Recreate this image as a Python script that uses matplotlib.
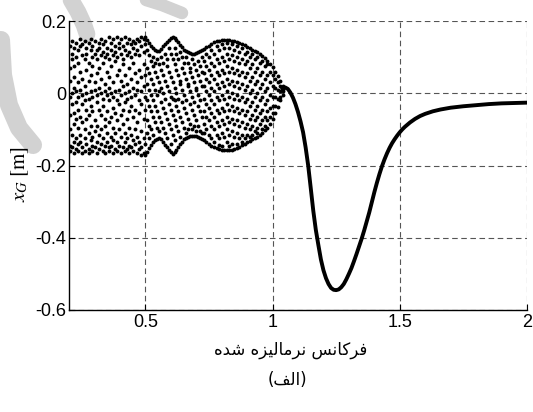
import numpy as np
import matplotlib.pyplot as plt
from matplotlib.lines import Line2D

plt.rcParams['font.family'] = ['Liberation Sans', 'DejaVu Sans']
plt.rcParams['mathtext.fontset'] = 'stix'
plt.rcParams['axes.unicode_minus'] = False

# --- scattered response below resonance (several values per frequency) ---
freq_a = [0.205, 0.212, 0.221, 0.229, 0.236, 0.245, 0.252, 0.261, 0.268, 0.277,
          0.285, 0.292, 0.301, 0.309, 0.316, 0.325, 0.333, 0.340, 0.349, 0.357,
          0.364, 0.373, 0.381, 0.388, 0.397, 0.405, 0.412, 0.421, 0.429, 0.436,
          0.445, 0.453, 0.460, 0.469, 0.477, 0.484, 0.493, 0.500]
xg_a = [
    [0.13, 0.07, 0.035, -0.01, -0.06, -0.1, -0.145, -0.16],
    [0.145, 0.11, 0.095, 0.0, -0.03, -0.115, -0.15],
    [0.125, 0.075, 0.045, 0.015, -0.055, -0.085, -0.135, -0.165],
    [0.14, 0.1, 0.005, -0.025, -0.07, -0.125, -0.155],
    [0.12, 0.085, 0.03, -0.01, -0.045, -0.095, -0.14, -0.16],
    [0.15, 0.13, 0.06, 0.01, -0.065, -0.115, -0.135],
    [0.135, 0.105, 0.04, -0.005, -0.03, -0.08, -0.15, -0.165],
    [0.145, 0.095, 0.02, -0.02, -0.1, -0.125, -0.16],
    [0.125, 0.11, 0.065, 0.0, -0.045, -0.07, -0.14],
    [0.14, 0.085, 0.035, -0.015, -0.06, -0.11, -0.155, -0.165],
    [0.15, 0.12, 0.05, 0.005, -0.035, -0.09, -0.13],
    [0.13, 0.1, 0.075, -0.01, -0.05, -0.12, -0.145, -0.16],
    [0.145, 0.11, 0.03, 0.01, -0.075, -0.105, -0.15],
    [0.12, 0.095, 0.055, -0.005, -0.025, -0.09, -0.135, -0.165],
    [0.14, 0.125, 0.07, 0.015, -0.045, -0.115, -0.155],
    [0.15, 0.105, 0.04, 0.0, -0.06, -0.1, -0.14],
    [0.135, 0.115, 0.085, -0.015, -0.035, -0.125, -0.16],
    [0.145, 0.1, 0.025, 0.005, -0.07, -0.09, -0.145, -0.165],
    [0.125, 0.11, 0.06, -0.005, -0.05, -0.11, -0.135],
    [0.155, 0.095, 0.045, 0.015, -0.02, -0.08, -0.15, -0.16],
    [0.14, 0.12, 0.075, 0.0, -0.065, -0.12, -0.145],
    [0.15, 0.105, 0.03, -0.01, -0.04, -0.095, -0.13, -0.165],
    [0.13, 0.115, 0.09, 0.005, -0.055, -0.11, -0.155],
    [0.155, 0.1, 0.05, -0.02, -0.075, -0.135, -0.16],
    [0.14, 0.125, 0.065, 0.01, -0.03, -0.1, -0.145],
    [0.15, 0.11, 0.035, -0.005, -0.06, -0.12, -0.165],
    [0.13, 0.095, 0.08, 0.02, -0.045, -0.085, -0.15],
    [0.155, 0.12, 0.05, 0.0, -0.025, -0.11, -0.135, -0.16],
    [0.14, 0.105, 0.025, -0.015, -0.07, -0.125, -0.155],
    [0.15, 0.115, 0.07, 0.005, -0.05, -0.095, -0.145, -0.165],
    [0.135, 0.1, 0.04, -0.01, -0.035, -0.115, -0.15],
    [0.145, 0.125, 0.085, 0.015, -0.065, -0.13, -0.16],
    [0.14, 0.11, 0.055, -0.005, -0.045, -0.1, -0.14],
    [0.15, 0.12, 0.03, 0.01, -0.08, -0.12, -0.165],
    [0.145, 0.105, 0.065, -0.02, -0.055, -0.135, -0.155],
    [0.155, 0.13, 0.045, 0.005, -0.03, -0.105, -0.15, -0.17],
    [0.15, 0.115, 0.08, 0.02, -0.07, -0.125, -0.165],
    [0.155, 0.135, 0.05, -0.01, -0.045, -0.14, -0.172],
]

freq_b = [0.507, 0.515, 0.523, 0.530, 0.538, 0.546, 0.553, 0.561, 0.569, 0.576,
          0.584, 0.592, 0.599, 0.607, 0.615, 0.622, 0.630, 0.638, 0.645, 0.653,
          0.661, 0.668, 0.676, 0.684, 0.691, 0.699, 0.707, 0.714, 0.722]
xg_b = [
    [0.148, 0.12, 0.07, 0.025, -0.02, -0.075, -0.11, -0.162],
    [0.14, 0.105, 0.055, 0.01, -0.035, -0.09, -0.125, -0.152],
    [0.132, 0.09, 0.04, -0.005, -0.05, -0.1, -0.143],
    [0.126, 0.1, 0.075, 0.025, -0.02, -0.065, -0.115, -0.136],
    [0.121, 0.085, 0.06, 0.01, -0.035, -0.08, -0.13],
    [0.118, 0.095, 0.045, -0.005, -0.05, -0.095, -0.126],
    [0.118, 0.08, 0.03, 0.005, -0.065, -0.105, -0.125],
    [0.123, 0.1, 0.065, 0.015, -0.025, -0.08, -0.128],
    [0.13, 0.085, 0.05, 0.0, -0.04, -0.095, -0.135],
    [0.137, 0.11, 0.035, -0.015, -0.055, -0.11, -0.142],
    [0.143, 0.095, 0.075, 0.02, -0.07, -0.125, -0.15],
    [0.148, 0.125, 0.06, 0.005, -0.03, -0.085, -0.157],
    [0.152, 0.11, 0.045, -0.01, -0.045, -0.1, -0.14, -0.163],
    [0.155, 0.095, 0.03, -0.015, -0.06, -0.115, -0.168],
    [0.153, 0.125, 0.08, 0.015, -0.02, -0.075, -0.13, -0.164],
    [0.148, 0.11, 0.065, 0.0, -0.035, -0.09, -0.157],
    [0.141, 0.095, 0.05, -0.015, -0.05, -0.105, -0.149],
    [0.134, 0.115, 0.035, 0.025, -0.065, -0.12, -0.141],
    [0.127, 0.1, 0.07, 0.01, -0.025, -0.08, -0.134],
    [0.121, 0.085, 0.055, -0.005, -0.04, -0.095, -0.128],
    [0.117, 0.1, 0.04, -0.02, -0.055, -0.11, -0.124],
    [0.114, 0.085, 0.025, 0.02, -0.07, -0.1, -0.121],
    [0.112, 0.07, 0.06, 0.005, -0.03, -0.085, -0.119],
    [0.11, 0.095, 0.045, -0.01, -0.045, -0.1, -0.118],
    [0.11, 0.08, 0.03, -0.025, -0.06, -0.09, -0.117],
    [0.111, 0.065, 0.015, 0.01, -0.075, -0.105, -0.118],
    [0.113, 0.09, 0.05, -0.005, -0.035, -0.09, -0.12],
    [0.116, 0.075, 0.035, -0.02, -0.05, -0.105, -0.123],
    [0.119, 0.1, 0.06, 0.02, -0.065, -0.11, -0.126],
]

freq_c = [0.73, 0.74, 0.75, 0.76, 0.77, 0.78, 0.79, 0.80, 0.81, 0.82, 0.83,
          0.84, 0.85, 0.86, 0.87, 0.88, 0.89, 0.90, 0.91, 0.92, 0.93, 0.94,
          0.95, 0.96, 0.97, 0.98, 0.99, 1.00, 1.01, 1.02, 1.03, 1.04]
xg_c = [
    [0.122, 0.09, 0.055, 0.02, -0.015, -0.05, -0.085, -0.11, -0.13],
    [0.127, 0.11, 0.075, 0.04, 0.005, -0.03, -0.065, -0.1, -0.135],
    [0.132, 0.1, 0.065, 0.03, -0.005, -0.04, -0.075, -0.115, -0.14],
    [0.137, 0.12, 0.085, 0.05, 0.015, -0.02, -0.055, -0.09, -0.125, -0.145],
    [0.141, 0.11, 0.075, 0.04, 0.005, -0.03, -0.065, -0.1, -0.135, -0.149],
    [0.144, 0.13, 0.095, 0.06, 0.025, -0.01, -0.045, -0.08, -0.115, -0.152],
    [0.146, 0.12, 0.085, 0.05, 0.015, -0.02, -0.055, -0.09, -0.125, -0.142, -0.155],
    [0.148, 0.135, 0.1, 0.065, 0.03, -0.005, -0.04, -0.075, -0.11, -0.145, -0.157],
    [0.148, 0.125, 0.09, 0.055, 0.02, -0.015, -0.05, -0.085, -0.12, -0.158],
    [0.148, 0.138, 0.11, 0.075, 0.04, 0.005, -0.03, -0.065, -0.1, -0.135, -0.158],
    [0.147, 0.125, 0.095, 0.06, 0.025, -0.01, -0.045, -0.08, -0.115, -0.145, -0.157],
    [0.146, 0.135, 0.105, 0.07, 0.035, 0.0, -0.035, -0.07, -0.105, -0.14, -0.156],
    [0.144, 0.12, 0.09, 0.055, 0.02, -0.015, -0.05, -0.085, -0.12, -0.154],
    [0.142, 0.13, 0.1, 0.065, 0.03, -0.005, -0.04, -0.075, -0.11, -0.14, -0.151],
    [0.139, 0.115, 0.085, 0.05, 0.015, -0.02, -0.055, -0.09, -0.125, -0.148],
    [0.136, 0.125, 0.095, 0.06, 0.025, -0.01, -0.045, -0.08, -0.115, -0.135, -0.144],
    [0.133, 0.11, 0.08, 0.045, 0.01, -0.025, -0.06, -0.095, -0.125, -0.14],
    [0.129, 0.115, 0.09, 0.055, 0.02, -0.015, -0.05, -0.085, -0.115, -0.136],
    [0.125, 0.1, 0.07, 0.035, 0.0, -0.035, -0.07, -0.1, -0.122, -0.132],
    [0.121, 0.11, 0.08, 0.045, 0.01, -0.025, -0.06, -0.09, -0.115, -0.128],
    [0.117, 0.095, 0.06, 0.025, -0.01, -0.045, -0.075, -0.105, -0.124],
    [0.113, 0.1, 0.07, 0.035, 0.0, -0.035, -0.065, -0.095, -0.11, -0.12],
    [0.108, 0.085, 0.05, 0.015, -0.02, -0.055, -0.085, -0.115],
    [0.103, 0.09, 0.06, 0.025, -0.01, -0.045, -0.075, -0.1, -0.11],
    [0.097, 0.075, 0.04, 0.005, -0.03, -0.065, -0.09, -0.103],
    [0.09, 0.08, 0.05, 0.015, -0.02, -0.05, -0.075, -0.095],
    [0.082, 0.06, 0.03, -0.005, -0.04, -0.065, -0.085],
    [0.072, 0.05, 0.02, -0.01, -0.035, -0.055, -0.072],
    [0.06, 0.04, 0.015, -0.01, -0.035, -0.056],
    [0.047, 0.03, 0.01, -0.015, -0.038],
    [0.033, 0.02, 0.005, -0.01, -0.02],
    [0.02, 0.012, 0.005, -0.004],
]

# --- single-valued response above resonance ---
curve_freq = [1.04, 1.05, 1.06, 1.07, 1.08, 1.09, 1.10, 1.11, 1.12, 1.13,
              1.14, 1.15, 1.16, 1.17, 1.18, 1.19, 1.20, 1.21, 1.22, 1.23,
              1.24, 1.25, 1.26, 1.27, 1.28, 1.29, 1.30, 1.31, 1.32, 1.33,
              1.34, 1.35, 1.36, 1.37, 1.38, 1.39, 1.40, 1.41, 1.42, 1.43,
              1.44, 1.45, 1.46, 1.47, 1.48, 1.49, 1.50, 1.51, 1.52, 1.54,
              1.56, 1.58, 1.60, 1.63, 1.66, 1.70, 1.75, 1.80, 1.85, 1.90,
              1.95, 2.00]
curve_xg = [0.012, 0.016, 0.012, 0.002, -0.012, -0.03, -0.052, -0.078, -0.108, -0.15,
            -0.2, -0.262, -0.325, -0.378, -0.42, -0.46, -0.49, -0.512, -0.528, -0.539,
            -0.544, -0.545, -0.543, -0.537, -0.528, -0.515, -0.5, -0.484, -0.465, -0.445,
            -0.424, -0.403, -0.38, -0.355, -0.33, -0.302, -0.274, -0.248, -0.224, -0.202,
            -0.183, -0.166, -0.151, -0.138, -0.127, -0.117, -0.108, -0.1, -0.093, -0.081,
            -0.071, -0.063, -0.057, -0.05, -0.045, -0.04, -0.036, -0.033, -0.03, -0.028,
            -0.027, -0.026]

xticks = [0.5, 1, 1.5, 2]
xtick_labels = ['0.5', '1', '1.5', '2']
yticks = [-0.6, -0.4, -0.2, 0, 0.2]
ytick_labels = ['-0.6', '-0.4', '-0.2', '0', '0.2']

xlabel_fa = 'فرکانس نرمالیزه شده'
caption_fa = '(الف)'

# presentation forms: isolated, final, initial, medial (None = joins right only)
FORMS = {
    '\u0627': ('\ufe8d', '\ufe8e', None, None),      # alef
    '\u062f': ('\ufea9', '\ufeaa', None, None),      # dal
    '\u0631': ('\ufead', '\ufeae', None, None),      # reh
    '\u0632': ('\ufeaf', '\ufeb0', None, None),      # zain
    '\u0633': ('\ufeb1', '\ufeb2', '\ufeb3', '\ufeb4'),  # seen
    '\u0634': ('\ufeb5', '\ufeb6', '\ufeb7', '\ufeb8'),  # sheen
    '\u0641': ('\ufed1', '\ufed2', '\ufed3', '\ufed4'),  # feh
    '\u0644': ('\ufedd', '\ufede', '\ufedf', '\ufee0'),  # lam
    '\u0645': ('\ufee1', '\ufee2', '\ufee3', '\ufee4'),  # meem
    '\u0646': ('\ufee5', '\ufee6', '\ufee7', '\ufee8'),  # noon
    '\u0647': ('\ufee9', '\ufeea', '\ufeeb', '\ufeec'),  # heh
    '\u06a9': ('\ufb8e', '\ufb8f', '\ufb90', '\ufb91'),  # keheh
    '\u06cc': ('\ufbfc', '\ufbfd', '\ufbfe', '\ufbff'),  # farsi yeh
}


def shape_fa(text):
    out = []
    for i, ch in enumerate(text):
        if ch not in FORMS:
            out.append(ch)
            continue
        prev = text[i - 1] if i > 0 else ''
        nxt = text[i + 1] if i + 1 < len(text) else ''
        link_prev = prev in FORMS and FORMS[prev][2] is not None
        link_next = FORMS[ch][2] is not None and nxt in FORMS
        iso, fin, ini, med = FORMS[ch]
        if link_prev and link_next:
            out.append(med)
        elif link_prev:
            out.append(fin)
        elif link_next:
            out.append(ini)
        else:
            out.append(iso)
    vis = ''.join(reversed(out))
    return vis.translate(str.maketrans('()', ')('))


def flatten(freqs, cols):
    fx = np.concatenate([np.full(len(c), f) for f, c in zip(freqs, cols)])
    fy = np.concatenate([np.array(c) for c in cols])
    return fx, fy


fig = plt.figure(figsize=(5.33, 4.12), dpi=100)

# faint watermark strokes behind the plot (pixel coords, y from top)
W, H = 533.0, 412.0
marks = [
    ([71, 78, 84, 87], [0, 12, 25, 34], 12),
    ([146, 162, 182], [0, 5, 13], 9),
    ([1, 3, 9, 19, 33], [40, 75, 105, 128, 145], 13),
]
for px, py, lw in marks:
    fig.add_artist(Line2D(np.array(px) / W, 1 - np.array(py) / H, transform=fig.transFigure,
                          color='#d2d2d2', lw=lw, solid_capstyle='round', zorder=0))

ax = fig.add_axes([69 / W, 1 - 310 / H, 458 / W, 289 / H])
ax.patch.set_alpha(0)

for fr, cols in ((freq_a, xg_a), (freq_b, xg_b), (freq_c, xg_c)):
    fx, fy = flatten(fr, cols)
    ax.plot(fx, fy, 'o', color='k', ms=2.8, mew=0, zorder=3)
ax.plot(curve_freq, curve_xg, '-', color='k', lw=2.8, zorder=3)

ax.set_xlim(0.2, 2)
ax.set_ylim(-0.6, 0.2)
ax.set_xticks(xticks)
ax.set_xticklabels(xtick_labels)
ax.set_yticks(yticks)
ax.set_yticklabels(ytick_labels)
ax.tick_params(direction='in', length=4, width=0.8, labelsize=13, pad=3)
ax.tick_params(axis='y', pad=2)

ax.grid(True, linestyle=(0, (5, 3.2)), color='#555555', lw=0.8)
ax.set_axisbelow(True)
for side in ('top', 'right'):
    ax.spines[side].set_visible(False)
for side in ('left', 'bottom'):
    ax.spines[side].set_linewidth(1.0)

ax.set_ylabel(r'$x_G\;[\mathrm{m}]$', fontsize=15)
ax.yaxis.set_label_coords(-0.083, 0.47)

fig.text(291 / W, 1 - 350 / H, shape_fa(xlabel_fa), family=['DejaVu Sans'],
         fontsize=12, ha='center', va='center')
fig.text(287 / W, 1 - 380 / H, shape_fa(caption_fa), family=['DejaVu Sans'],
         fontsize=12, ha='center', va='center')

fig.savefig('out.png', dpi=100)
